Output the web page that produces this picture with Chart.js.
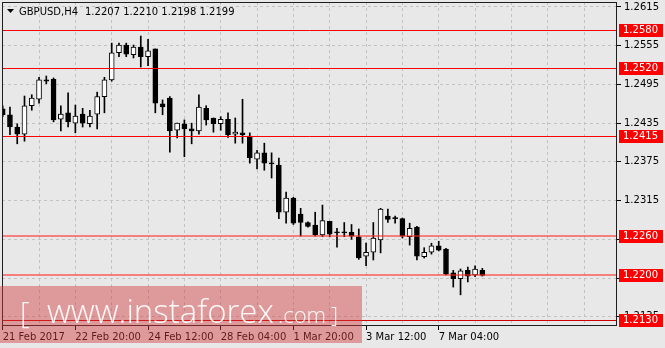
<!DOCTYPE html>
<html><head><meta charset="utf-8">
<script src="https://cdn.jsdelivr.net/npm/chart.js@4.4.1/dist/chart.umd.min.js"></script>
<style>html,body{margin:0;padding:0;background:#e8e8e8;overflow:hidden}#wrap{width:665px;height:348px;position:relative}canvas{display:block}</style>
</head><body><div id="wrap"><canvas id="c" width="665" height="348" style="width:665px;height:348px"></canvas></div>
<script>
const symbolName = "GBPUSD,H4";
const lastQuote = ["1.2207", "1.2210", "1.2198", "1.2199"];

// H4 candles, 21 Feb 2017 04:00 .. 8 Mar 2017 04:00
const opens = [1.2457,1.2448,1.2429,1.2418,1.2462,1.2472,1.2502,1.2503,1.2441,1.2451,
1.2435,1.2449,1.2434,1.2449,1.2476,1.2502,1.2544,1.2556,1.2541,1.2553,
1.2538,1.2550,1.2465,1.2474,1.2424,1.2434,1.2426,1.2423,1.2458,1.2443,
1.2434,1.2441,1.2418,1.2420,1.2415,1.2379,1.2389,1.2373,1.2370,1.2297,
1.2319,1.2294,1.2281,1.2277,1.2262,1.2283,1.2266,1.2266,1.2266,1.2259,
1.2229,1.2235,1.2254,1.2291,1.2288,1.2287,1.2259,1.2274,1.2228,1.2235,
1.2245,1.2240,1.2203,1.2194,1.2207,1.2200,1.2207];
const highs = [1.2462,1.2460,1.2434,1.2477,1.2479,1.2506,1.2508,1.2505,1.2462,1.2482,
1.2463,1.2458,1.2455,1.2483,1.2506,1.2559,1.2559,1.2559,1.2556,1.2570,
1.2565,1.2550,1.2471,1.2476,1.2435,1.2440,1.2435,1.2479,1.2462,1.2443,
1.2445,1.2451,1.2443,1.2472,1.2420,1.2393,1.2404,1.2389,1.2381,1.2328,
1.2320,1.2303,1.2282,1.2297,1.2308,1.2283,1.2272,1.2281,1.2278,1.2271,
1.2249,1.2281,1.2303,1.2302,1.2291,1.2288,1.2280,1.2275,1.2242,1.2249,
1.2252,1.2241,1.2207,1.2209,1.2212,1.2214,1.2210];
const lows = [1.2445,1.2417,1.2403,1.2407,1.2455,1.2466,1.2496,1.2437,1.2423,1.2429,
1.2420,1.2429,1.2429,1.2426,1.2451,1.2500,1.2538,1.2538,1.2536,1.2522,
1.2524,1.2451,1.2448,1.2390,1.2412,1.2383,1.2403,1.2418,1.2432,1.2421,
1.2424,1.2413,1.2404,1.2404,1.2373,1.2364,1.2362,1.2350,1.2287,1.2280,
1.2278,1.2260,1.2274,1.2260,1.2259,1.2259,1.2243,1.2259,1.2255,1.2224,
1.2214,1.2223,1.2234,1.2281,1.2280,1.2257,1.2246,1.2223,1.2226,1.2232,
1.2237,1.2200,1.2181,1.2169,1.2189,1.2197,1.2198];
const closes = [1.2448,1.2429,1.2418,1.2462,1.2474,1.2502,1.2500,1.2440,1.2449,1.2437,
1.2446,1.2435,1.2446,1.2476,1.2502,1.2544,1.2556,1.2542,1.2553,1.2538,
1.2547,1.2466,1.2460,1.2423,1.2435,1.2426,1.2423,1.2460,1.2440,1.2434,
1.2441,1.2417,1.2421,1.2417,1.2381,1.2389,1.2373,1.2372,1.2297,1.2319,
1.2280,1.2281,1.2275,1.2262,1.2284,1.2263,1.2265,1.2265,1.2260,1.2226,
1.2235,1.2257,1.2302,1.2286,1.2287,1.2260,1.2272,1.2229,1.2235,1.2245,
1.2238,1.2201,1.2194,1.2206,1.2198,1.2209,1.2199];

const xLabelIndex = [0, 10, 20, 30, 40, 50, 60];
const xLabelText = ["21 Feb 2017", "22 Feb 20:00", "24 Feb 12:00", "28 Feb 04:00", "1 Mar 20:00", "3 Mar 12:00", "7 Mar 04:00"];
const xGridIndex = [0,5,10,15,20,25,30,35,40,45,50,55,60,65,70,75,80];
const yTicks = [1.2135, 1.2195, 1.2255, 1.2315, 1.2375, 1.2435, 1.2495, 1.2555, 1.2615];
const levels = [1.2580, 1.2520, 1.2415, 1.2260, 1.2200, 1.2130];

const FONT = '"DejaVu Sans", sans-serif';
const idx = opens.map((_, i) => i);
const bodyData = idx.map(i => ({x: i, y: [Math.min(opens[i], closes[i]), Math.max(opens[i], closes[i])]}));
const wickData = idx.map(i => ({x: i, y: [lows[i], highs[i]]}));
const bodyColors = idx.map(i => closes[i] >= opens[i] ? '#ffffff' : '#000000');

const mt4 = {
  id: 'mt4',
  beforeDraw(chart) {
    const c = chart.ctx;
    c.save(); c.fillStyle = '#e8e8e8'; c.fillRect(0, 0, chart.width, chart.height); c.restore();
  },
  afterDatasetsDraw(chart) {
    const c = chart.ctx, a = chart.chartArea, ys = chart.scales.y;
    c.save();
    levels.forEach((v, k) => {
      const y = ys.getPixelForValue(v);
      if (k === 3 || k === 4) { c.strokeStyle = 'rgba(255,40,40,0.55)'; c.lineWidth = 2; }
      else if (k === 5) { c.strokeStyle = '#d00000'; c.lineWidth = 1; }
      else { c.strokeStyle = '#ff0000'; c.lineWidth = 1; }
      const yy = c.lineWidth === 1 ? Math.round(y) + 0.5 : Math.round(y);
      c.beginPath(); c.moveTo(a.left, yy); c.lineTo(a.right, yy); c.stroke();
    });
    c.strokeStyle = '#1e1e1e'; c.lineWidth = 1;
    c.strokeRect(Math.round(a.left) + 0.5, Math.round(a.top) + 0.5, Math.round(a.right - a.left) - 1, Math.round(a.bottom - a.top) - 1);
    c.restore();
  },
  afterDraw(chart) {
    const c = chart.ctx, a = chart.chartArea, ys = chart.scales.y;
    c.save();
    c.font = '10px ' + FONT; c.textBaseline = 'middle'; c.textAlign = 'left';
    levels.forEach(v => {
      const y = Math.round(ys.getPixelForValue(v));
      c.fillStyle = '#ff0000'; c.fillRect(a.right + 2, y - 6, 44, 13);
      c.fillStyle = '#ffffff'; c.fillText(v.toFixed(4), a.right + 6, y + 0.5);
    });
    c.fillStyle = '#000';
    c.beginPath(); c.moveTo(7, 9); c.lineTo(14, 9); c.lineTo(10.5, 13); c.closePath(); c.fill();
    c.font = '10px ' + FONT; c.textBaseline = 'middle';
    c.fillText(symbolName, 19, 12);
    c.fillText(lastQuote.join(' '), 85, 12);
    c.fillStyle = 'rgba(210,60,60,0.45)';
    c.fillRect(0, 286, 362, 57);
    c.fillStyle = 'rgba(255,255,255,0.92)';
    c.textBaseline = 'alphabetic';
    c.font = '300 30px "Open Sans", sans-serif';
    c.fillText('[', 20, 323);
    c.font = '300 33px "Open Sans", sans-serif';
    c.fillText('www.instaforex', 47, 323, 231);
    c.font = '300 22px "Open Sans", sans-serif';
    c.fillText('.com', 278, 323, 49);
    c.fillText(']', 331, 323);
    c.restore();
  }
};

function noPad(s) { s.paddingTop = 0; s.paddingBottom = 0; s.paddingLeft = 0; s.paddingRight = 0; }

new Chart(document.getElementById('c'), {
  type: 'bar',
  data: {
    datasets: [
      { data: bodyData, backgroundColor: bodyColors, borderColor: '#000', borderWidth: 1, borderSkipped: false,
        barThickness: 5, minBarLength: 1, grouped: false, order: 0 },
      { data: wickData, backgroundColor: '#000', borderWidth: 0, barThickness: 1, grouped: false, order: 1 }
    ]
  },
  options: {
    responsive: false,
    animation: false,
    devicePixelRatio: 1,
    layout: { padding: { left: 2, top: 2, right: 0, bottom: 0 } },
    plugins: { legend: { display: false }, tooltip: { enabled: false } },
    scales: {
      x: {
        type: 'linear', offset: false, min: -0.096, max: 84.53,
        afterBuildTicks: s => { s.ticks = xGridIndex.map(v => ({value: v})); },
        afterFit: s => { s.height = 22; noPad(s); },
        border: { display: false, dash: [3, 3] },
        grid: {
          offset: false,
          color: ctx => (ctx.tick && ctx.tick.value === 0) ? 'rgba(0,0,0,0)' : '#c2c2c2',
          tickColor: ctx => (ctx.tick && xLabelIndex.includes(ctx.tick.value)) ? '#000' : 'rgba(0,0,0,0)',
          tickLength: 4, tickBorderDash: [], drawOnChartArea: true
        },
        ticks: {
          autoSkip: false, maxRotation: 0, align: 'start', padding: 1, color: '#000',
          font: { family: FONT, size: 10 },
          callback: v => { const k = xLabelIndex.indexOf(v); return k >= 0 ? xLabelText[k] : ''; }
        }
      },
      y: {
        position: 'right', min: 1.21207, max: 1.26227,
        afterBuildTicks: s => { s.ticks = yTicks.map(v => ({value: v})); },
        afterFit: s => { s.width = 48; noPad(s); },
        border: { display: false, dash: [3, 3] },
        grid: { color: '#c2c2c2', tickColor: '#000', tickLength: 4, tickBorderDash: [] },
        ticks: { color: '#000', padding: 3, font: { family: FONT, size: 10 }, callback: v => v.toFixed(4) }
      }
    }
  },
  plugins: [mt4]
});
</script></body></html>
